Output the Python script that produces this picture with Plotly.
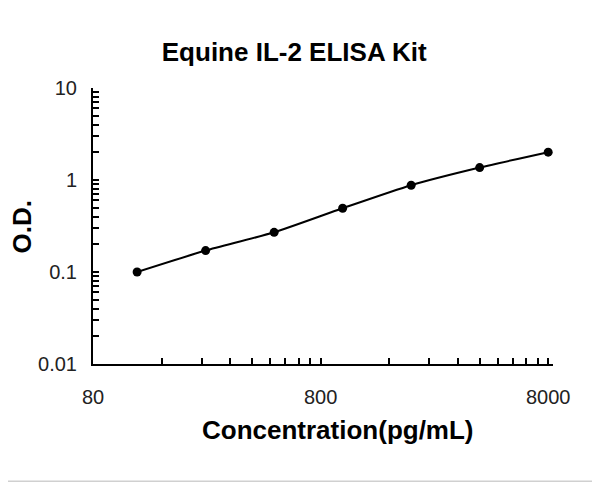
import plotly.graph_objects as go
import math

# standard curve
concentration = [125, 250, 500, 1000, 2000, 4000, 8000]
od_values = [0.100, 0.171, 0.270, 0.493, 0.877, 1.365, 2.006]

x_major = [80, 800, 8000]
y_major = [0.01, 0.1, 1, 10]

# excel-style log ticks: 1..9 times every decade start
x_ticks = [m * k for m in x_major[:-1] for k in range(1, 10)] + [x_major[-1]]
x_text = [str(v) if v in x_major else "" for v in x_ticks]
y_ticks = [round(m * k, 4) for m in y_major[:-1] for k in range(1, 10)] + [y_major[-1]]
y_text = [("%g" % v) if v in y_major else "" for v in y_ticks]

FONT = "Liberation Sans, Arial, sans-serif"

fig = go.Figure()
fig.add_trace(go.Scatter(
    x=concentration, y=od_values,
    mode="lines+markers",
    line=dict(color="black", width=2, shape="spline", smoothing=0.6),
    marker=dict(color="black", size=9),
    showlegend=False,
    hoverinfo="x+y",
))

fig.update_xaxes(
    type="log",
    range=[math.log10(80), math.log10(8400)],
    tickvals=x_ticks, ticktext=x_text,
    ticks="inside", ticklen=6, tickwidth=1.5, tickcolor="black",
    ticklabelstandoff=14,
    showline=True, linecolor="black", linewidth=2,
    showgrid=False, zeroline=False,
    tickfont=dict(family=FONT, size=20, color="#222"),
)
fig.update_yaxes(
    type="log",
    range=[-2, 1],
    tickvals=y_ticks, ticktext=y_text,
    ticks="inside", ticklen=6, tickwidth=2, tickcolor="black",
    ticklabelstandoff=10,
    showline=True, linecolor="black", linewidth=2,
    showgrid=False, zeroline=False,
    tickfont=dict(family=FONT, size=20, color="#222"),
)

# the page puts the figure 8px in from the corner, margins allow for that
fig.update_layout(
    width=600, height=486,
    margin=dict(l=85, r=55, t=80, b=130),
    paper_bgcolor="white", plot_bgcolor="white",
    title=dict(
        text="<b>Equine IL-2 ELISA Kit</b>",
        x=0.477, xanchor="center",
        y=1 - 44 / 486, yref="container", yanchor="middle",
        font=dict(family=FONT, size=26, color="black"),
    ),
)

# axis titles placed as annotations to sit where the reference has them
fig.add_annotation(
    text="<b>Concentration(pg/mL)</b>",
    xref="paper", yref="paper", x=0.532, y=-0.24,
    xanchor="center", yanchor="middle", showarrow=False,
    font=dict(family=FONT, size=26, color="black"),
)
fig.add_annotation(
    text="<b>O.D.</b>",
    xref="paper", yref="paper", x=-0.154, y=0.495,
    xanchor="center", yanchor="middle", showarrow=False, textangle=-90,
    font=dict(family=FONT, size=26, color="black"),
)

# thin grey frame round the picture
fig.add_shape(
    type="rect", xref="paper", yref="paper",
    x0=-0.1987, x1=1.0964, y0=-0.4244, y1=1.31,
    line=dict(color="#d0d0d0", width=1.5),
)

fig.write_html("out.html")
